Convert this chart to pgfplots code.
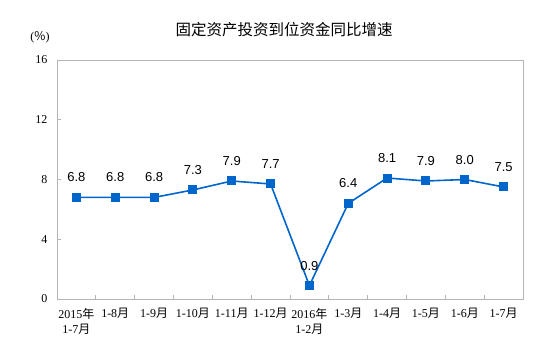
\documentclass[border=0pt]{standalone}
\usepackage{fontspec}
\setmainfont{Liberation Serif}
\newfontfamily\cjk{Noto Sans CJK SC}
\newfontfamily\lab{Liberation Sans}
\usepackage{pgfplots}
\pgfplotsset{compat=1.18}
\definecolor{lineblue}{HTML}{0066CC}
\definecolor{axgray}{HTML}{B4B4B4}
\begin{document}
\begin{tikzpicture}[x=1pt,y=1pt]
\useasboundingbox (0,0) rectangle (553,362);
\node[font=\cjk\fontsize{15.5}{18}\selectfont] at (284,332) {固定资产投资到位资金同比增速};
\node[font=\fontsize{12}{14}\selectfont] at (40,325) {({\cjk\%})};
\begin{axis}[
  at={(57pt,63pt)}, anchor=south west,
  scale only axis, width=466pt, height=239pt,
  xmin=-0.5, xmax=11.5, ymin=0, ymax=16,
  ytick={0,4,8,12,16},
  xtick={0,...,11},
  xticklabels={{2015{\cjk 年}\\1-7{\cjk 月}},1-8{\cjk 月},1-9{\cjk 月},1-10{\cjk 月},1-11{\cjk 月},1-12{\cjk 月},{2016{\cjk 年}\\1-2{\cjk 月}},1-3{\cjk 月},1-4{\cjk 月},1-5{\cjk 月},1-6{\cjk 月},1-7{\cjk 月}},
  minor xtick={-0.5,0.5,...,11.5},
  major x tick style={draw=none},
  minor tick length=4pt,
  major tick length=4pt,
  tick style={axgray, line width=0.8pt},
  axis line style={axgray, line width=0.8pt},
  tick align=inside,
  xtick pos=bottom, ytick pos=left,
  x tick label style={font=\fontsize{12}{15}\selectfont, align=center, anchor=north, yshift=-6pt},
  y tick label style={font=\fontsize{12}{14}\selectfont, xshift=-6pt},
  /pgf/number format/assume math mode=true,
  nodes near coords,
  nodes near coords style={font=\lab\fontsize{13}{15}\selectfont, black, anchor=south, yshift=12pt, /pgf/number format/fixed, /pgf/number format/fixed zerofill, /pgf/number format/precision=1},
  clip=false,
]
\addplot[lineblue, line width=1.6pt, mark=square*, mark size=4pt, mark options={fill=lineblue, draw=lineblue, line width=0pt}]
coordinates {(0,6.8) (1,6.8) (2,6.8) (3,7.3) (4,7.9) (5,7.7) (6,0.9) (7,6.4) (8,8.1) (9,7.9) (10,8.0) (11,7.5)};
\end{axis}
\end{tikzpicture}
\end{document}
